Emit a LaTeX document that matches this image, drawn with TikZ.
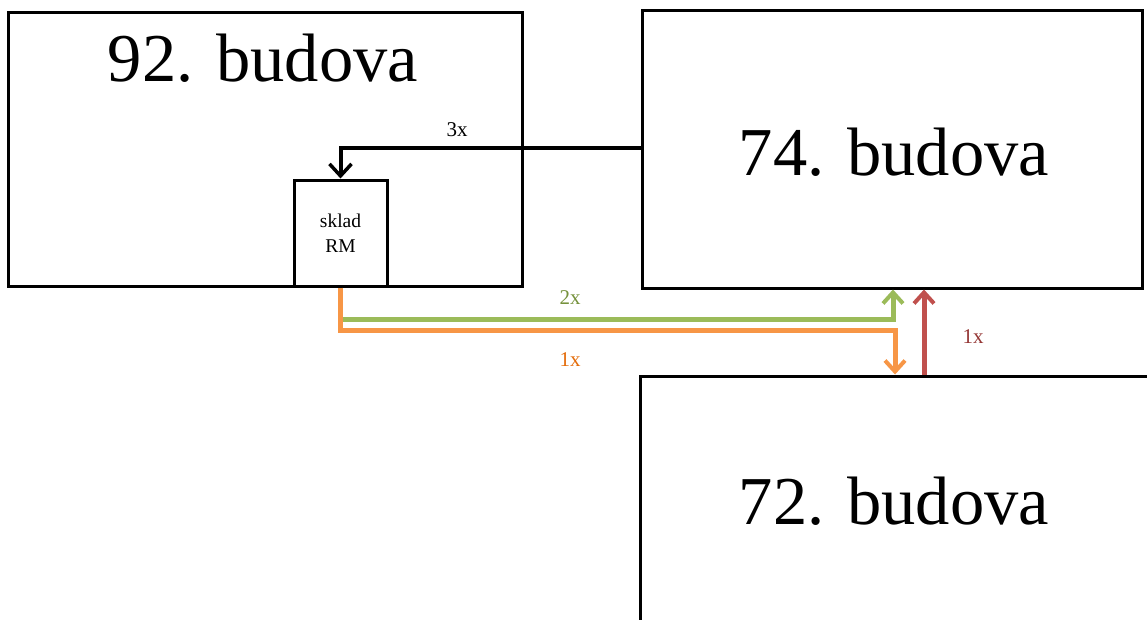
\documentclass[tikz,border=0pt]{standalone}
\usepackage{fontspec}
\setmainfont{Liberation Serif}
\usetikzlibrary{arrows.meta}
\definecolor{flowgreen}{HTML}{9BBB59}
\definecolor{flowgreentext}{HTML}{76923C}
\definecolor{floworange}{HTML}{F79646}
\definecolor{floworangetext}{HTML}{E46C0A}
\definecolor{flowred}{HTML}{C0504D}
\definecolor{flowredtext}{HTML}{953735}
\tikzset{
  building/.style={draw, line width=3pt, inner sep=0pt},
  title/.style={font=\fontsize{68.5}{72}\selectfont, inner sep=0pt},
  store/.style={draw, line width=3pt, inner sep=0pt, minimum width=93pt, minimum height=106pt,
    align=center, font=\fontsize{19.5}{25}\selectfont},
  count/.style={font=\fontsize{21}{22}\selectfont, inner sep=0pt},
  flow/.style={line width=4pt, -{Straight Barb[length=12pt, width=22pt, line width=3.5pt]}},
  cflow/.style={line width=5pt, -{Straight Barb[length=11pt, width=20pt, line width=4pt]}},
}
\begin{document}
\begin{tikzpicture}[x=1pt, y=-1pt]
\useasboundingbox (0,0) rectangle (1147,619);
\clip (0,0) rectangle (1147,619);
\fill[white] (0,0) rectangle (1147,619);

% buildings
\node[building, minimum width=514pt, minimum height=274pt] (b92) at (265,149) {};
\node[building, minimum width=500pt, minimum height=278pt] (b74) at (892,149) {};
\node[building, minimum width=530pt, minimum height=274pt] (b72) at (905,513) {};

\node[title] (t92) at (263,58) {92. budova};
\node[title] (t74) at (894,152) {74. budova};
\node[title] (t72) at (894,501) {72. budova};

% store inside building 92, sitting on its bottom wall
\node[store] (sklad) at (340.5,233) {sklad\\RM};

% deliveries from 74 to the store
\draw[flow] (b74.west |- 0,148) -| (sklad.north);
\node[count] (l3) at (457,130) {3x};

% store to 74 and 72
\coordinate (gs) at (343,319);
\coordinate (gc) at (893,319);
\draw[cflow, flowgreen] (gs) -- (gc) -- (gc |- b74.south);
\node[count, text=flowgreentext] (l2) at (570,298) {2x};

\coordinate (oc) at (895,330);
\draw[cflow, floworange] (sklad.south) |- (oc) -- (oc |- b72.north);
\node[count, text=floworangetext] (l1o) at (570,360) {1x};

% 72 to 74
\coordinate (rc) at (924,330);
\draw[cflow, flowred] (rc |- b72.north) -- (rc |- b74.south);
\node[count, text=flowredtext] (l1r) at (973,337) {1x};
\end{tikzpicture}
\end{document}
